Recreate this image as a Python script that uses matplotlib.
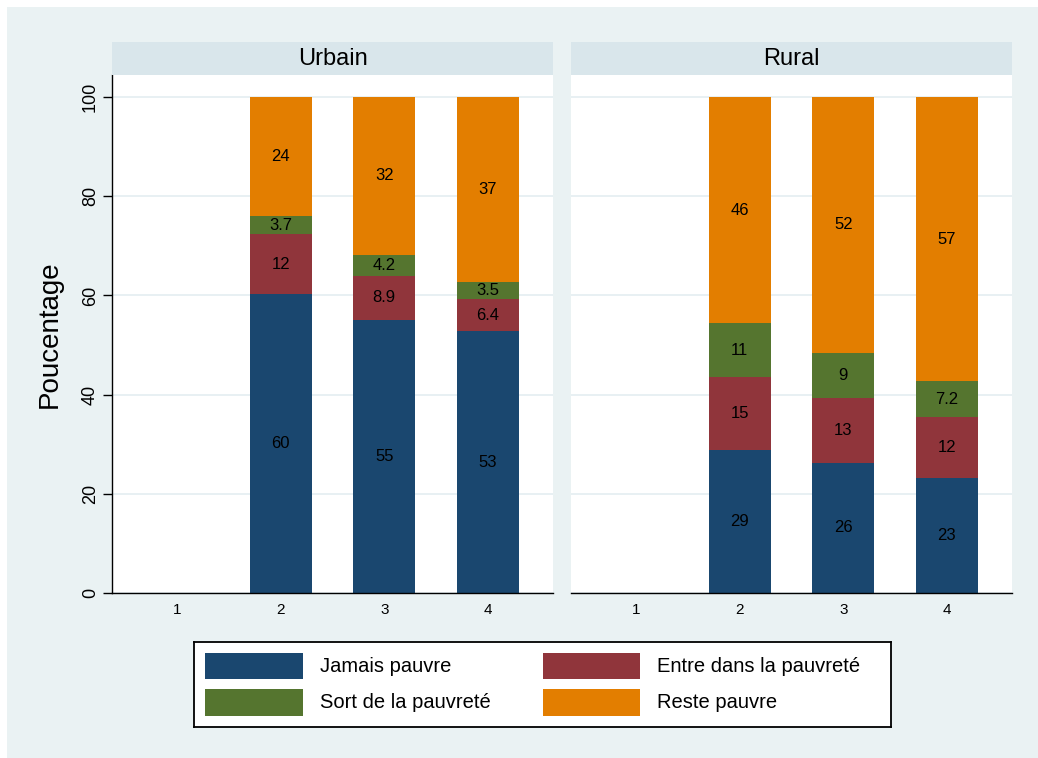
import matplotlib
matplotlib.use("Agg")
import matplotlib.pyplot as plt
from matplotlib.patches import Rectangle

# ---- data ----------------------------------------------------------------
x_labels = ["1", "2", "3", "4"]
bar_cats = ["2", "3", "4"]          # category 1 has no bars

series = ["Jamais pauvre", "Entre dans la pauvreté",
          "Sort de la pauvreté", "Reste pauvre"]

urbain_jamais = [60.3, 55.1, 52.8]
urbain_entre = [12.0, 8.9, 6.4]
urbain_sort = [3.7, 4.2, 3.5]
urbain_reste = [24.0, 31.8, 37.3]

rural_jamais = [28.9, 26.3, 23.2]
rural_entre = [14.6, 13.1, 12.3]
rural_sort = [10.9, 9.0, 7.2]
rural_reste = [45.6, 51.6, 57.3]

panels = ["Urbain", "Rural"]
y_ticks = [0, 20, 40, 60, 80, 100]
y_title = "Poucentage"

# ---- style ---------------------------------------------------------------
W, H = 1038, 758
BG, STRIP, GRID = "#EAF2F3", "#D9E6EB", "#E4EEF1"
COLORS = ["#1A476F", "#90353B", "#55752F", "#E37E00"]
plt.rcParams["font.family"] = ["Liberation Sans", "DejaVu Sans"]


def px_rect(x0, y0, x1, y1):
    return [x0 / W, 1 - y1 / H, (x1 - x0) / W, (y1 - y0) / H]


fig = plt.figure(figsize=(W / 100, H / 100), dpi=100, facecolor="white")
fig.patches.append(Rectangle((7 / W, 0), 1 - 7 / W, 1 - 7 / H,
                             transform=fig.transFigure, facecolor=BG,
                             edgecolor="none", zorder=-10))

panel_data = {
    "Urbain": [urbain_jamais, urbain_entre, urbain_sort, urbain_reste],
    "Rural": [rural_jamais, rural_entre, rural_sort, rural_reste],
}
panel_px = {"Urbain": (112, 553), "Rural": (571, 1012)}

pos = [x_labels.index(c) + 1 for c in bar_cats]

for i, name in enumerate(panels):
    x0, x1 = panel_px[name]
    ax = fig.add_axes(px_rect(x0, 75, x1, 593))
    ax.set_facecolor("white")
    ax.set_xlim(0.37, 4.63)
    ax.set_ylim(0, 104.44)
    for y in y_ticks:
        ax.axhline(y, color=GRID, lw=1.2, zorder=0)

    bottom = [0.0] * len(bar_cats)
    for vals, col in zip(panel_data[name], COLORS):
        ax.bar(pos, vals, width=0.6, bottom=bottom, color=col,
               edgecolor="none", zorder=2)
        for p, b, v in zip(pos, bottom, vals):
            ax.text(p, b + v / 2, f"{v:.2g}", ha="center", va="center",
                    fontsize=12, color="black", zorder=3)
        bottom = [b + v for b, v in zip(bottom, vals)]

    ax.set_xticks(range(1, len(x_labels) + 1))
    ax.set_xticklabels(x_labels, fontsize=11)
    ax.tick_params(axis="x", length=0, pad=7)
    for sp in ("top", "right"):
        ax.spines[sp].set_visible(False)
    ax.spines["bottom"].set_color("black")
    ax.spines["bottom"].set_linewidth(1.0)
    if i == 0:
        ax.set_yticks(y_ticks)
        ax.set_yticklabels([str(t) for t in y_ticks], fontsize=13,
                           rotation=90, va="center")
        ax.tick_params(axis="y", length=6.5, width=1.0, pad=3)
        ax.spines["left"].set_color("black")
        ax.spines["left"].set_linewidth(1.0)
        ax.set_ylabel(y_title, fontsize=20, labelpad=14)
    else:
        ax.spines["left"].set_visible(False)
        ax.set_yticks([])

    # strip header
    sax = fig.add_axes(px_rect(x0, 42, x1, 75))
    sax.set_facecolor(STRIP)
    sax.set_xticks([])
    sax.set_yticks([])
    for sp in sax.spines.values():
        sp.set_visible(False)
    sax.text(0.5, 0.47, name, ha="center", va="center", fontsize=17,
             transform=sax.transAxes)

# ---- legend (drawn in pixel coords) --------------------------------------
lax = fig.add_axes(px_rect(194, 642, 891, 727))
lax.set_xlim(194, 891)
lax.set_ylim(727, 642)
lax.set_facecolor("white")
lax.set_xticks([])
lax.set_yticks([])
for sp in lax.spines.values():
    sp.set_color("black")
    sp.set_linewidth(1.3)

cols = [(205, 303, 320), (543, 640, 657)]
rows = [(653, 679), (689, 716)]
for k, (lab, col) in enumerate(zip(series, COLORS)):
    cx0, cx1, tx = cols[k % 2]
    ry0, ry1 = rows[k // 2]
    lax.add_patch(Rectangle((cx0, ry0), cx1 - cx0, ry1 - ry0,
                            facecolor=col, edgecolor="none"))
    lax.text(tx, (ry0 + ry1) / 2, lab, ha="left", va="center", fontsize=14.5)

fig.savefig("out.png", dpi=100, facecolor="white")
